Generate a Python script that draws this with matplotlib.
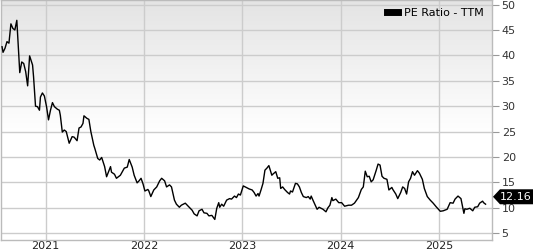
import numpy as np
import pandas as pd
import matplotlib
matplotlib.use('Agg')
import matplotlib.pyplot as plt
import matplotlib.dates as mdates
import matplotlib.transforms as mtransforms
from matplotlib.patches import Polygon
from matplotlib.colors import LinearSegmentedColormap

# weekly PE ratio (TTM), dates as decimal years
dec_years = [
    2020.56, 2020.57, 2020.59, 2020.61, 2020.63, 2020.65, 2020.67, 2020.69, 2020.71, 2020.73,
    2020.74, 2020.76, 2020.78, 2020.80, 2020.82, 2020.84, 2020.87, 2020.88, 2020.90, 2020.92,
    2020.94, 2020.95, 2020.97, 2020.99, 2021.01, 2021.03, 2021.05, 2021.07, 2021.09, 2021.12,
    2021.14, 2021.15, 2021.17, 2021.19, 2021.21, 2021.24, 2021.27, 2021.29, 2021.32, 2021.34,
    2021.36, 2021.38, 2021.39, 2021.42, 2021.44, 2021.46, 2021.49, 2021.50, 2021.53, 2021.55,
    2021.57, 2021.60, 2021.62, 2021.66, 2021.67, 2021.70, 2021.72, 2021.76, 2021.80, 2021.83,
    2021.85, 2021.88, 2021.90, 2021.93, 2021.95, 2021.97, 2021.99, 2022.01, 2022.04, 2022.05,
    2022.07, 2022.10, 2022.13, 2022.16, 2022.18, 2022.21, 2022.23, 2022.26, 2022.28, 2022.31,
    2022.33, 2022.36, 2022.38, 2022.42, 2022.44, 2022.46, 2022.49, 2022.51, 2022.54, 2022.56,
    2022.59, 2022.61, 2022.64, 2022.66, 2022.69, 2022.72, 2022.74, 2022.76, 2022.77, 2022.79,
    2022.81, 2022.84, 2022.87, 2022.89, 2022.92, 2022.94, 2022.96, 2022.98, 2023.01, 2023.04,
    2023.07, 2023.10, 2023.12, 2023.14, 2023.16, 2023.17, 2023.19, 2023.21, 2023.23, 2023.25,
    2023.27, 2023.30, 2023.31, 2023.34, 2023.36, 2023.38, 2023.39, 2023.41, 2023.43, 2023.46,
    2023.48, 2023.49, 2023.51, 2023.54, 2023.56, 2023.58, 2023.60, 2023.62, 2023.65, 2023.67,
    2023.69, 2023.70, 2023.72, 2023.76, 2023.78, 2023.82, 2023.85, 2023.87, 2023.89, 2023.91,
    2023.92, 2023.95, 2023.98, 2024.01, 2024.04, 2024.08, 2024.11, 2024.14, 2024.18, 2024.21,
    2024.23, 2024.25, 2024.27, 2024.29, 2024.31, 2024.33, 2024.36, 2024.38, 2024.40, 2024.42,
    2024.44, 2024.47, 2024.49, 2024.52, 2024.53, 2024.56, 2024.58, 2024.61, 2024.63, 2024.65,
    2024.67, 2024.69, 2024.71, 2024.73, 2024.75, 2024.78, 2024.80, 2024.83, 2024.85, 2024.88,
    2024.91, 2024.94, 2024.97, 2025.01, 2025.04, 2025.08, 2025.11, 2025.14, 2025.16, 2025.19,
    2025.22, 2025.24, 2025.25, 2025.26, 2025.28, 2025.31, 2025.34, 2025.36, 2025.39, 2025.41,
    2025.44, 2025.45, 2025.47,
]
pe_ratio = [
    41.7, 40.6, 41.4, 42.7, 42.4, 46.2, 45.3, 45.0, 46.9, 40.1,
    36.6, 38.7, 38.4, 36.8, 34.0, 39.9, 38.1, 35.8, 30.0, 29.9,
    29.2, 31.8, 32.6, 32.0, 29.9, 27.3, 29.2, 30.7, 29.9, 29.4,
    29.2, 28.2, 24.9, 25.3, 25.0, 22.7, 24.0, 23.9, 23.2, 25.7,
    25.9, 26.6, 28.1, 27.6, 27.4, 25.0, 22.3, 21.7, 19.7, 19.4,
    19.9, 18.1, 16.1, 18.1, 17.0, 16.6, 15.8, 16.4, 17.8, 18.0,
    19.5, 18.0, 16.4, 14.9, 15.3, 15.8, 14.7, 13.3, 13.6, 13.3,
    12.2, 13.5, 14.1, 15.3, 15.8, 15.3, 14.1, 14.5, 14.1, 11.5,
    10.7, 10.1, 10.5, 10.9, 10.5, 10.1, 9.5, 8.8, 8.4, 9.4,
    9.7, 9.0, 8.9, 8.4, 8.5, 7.7, 9.9, 11.0, 10.1, 10.7,
    10.3, 11.5, 11.8, 11.7, 12.3, 12.0, 12.7, 12.5, 14.3, 14.0,
    13.7, 13.5, 13.0, 12.3, 12.8, 12.3, 13.5, 14.8, 17.4, 17.8,
    18.3, 16.4, 16.6, 17.1, 15.8, 15.9, 13.8, 14.1, 13.6, 13.0,
    12.7, 13.3, 13.1, 14.8, 14.7, 14.1, 13.0, 12.2, 12.0, 12.2,
    11.7, 12.3, 11.4, 9.7, 10.1, 9.7, 9.2, 10.0, 10.5, 12.0,
    11.4, 11.7, 11.0, 11.0, 10.3, 10.5, 10.5, 10.9, 12.0, 13.6,
    14.1, 17.2, 16.1, 16.2, 15.1, 15.5, 17.3, 18.6, 18.4, 16.2,
    15.8, 15.6, 13.5, 14.0, 13.6, 12.7, 11.8, 13.0, 14.1, 13.8,
    12.7, 15.1, 15.8, 17.1, 16.4, 17.3, 16.8, 15.6, 13.8, 12.2,
    11.5, 10.9, 10.2, 9.3, 9.4, 9.7, 11.0, 10.9, 11.7, 12.3,
    11.8, 9.9, 8.9, 9.8, 9.7, 9.9, 9.4, 10.1, 10.2, 10.9,
    11.3, 11.0, 10.7,
]
last_value = 12.16
y_ticks = [5, 10, 15, 20, 25, 30, 35, 40, 45, 50]
x_years = [2021, 2022, 2023, 2024, 2025]


def to_date(y):
    yi = int(y)
    return pd.Timestamp(yi, 1, 1) + pd.Timedelta(days=(y - yi) * 365.25)


dates = [to_date(y) for y in dec_years]

fig = plt.figure(figsize=(5.33, 2.5), dpi=100)
ax = fig.add_axes([0.002, 0.04, 0.921, 0.96])

# grey (top) to white background gradient
grad = np.linspace(0, 1, 256).reshape(-1, 1)
grad = np.clip(grad * 1.8, 0, 1)
cmap = LinearSegmentedColormap.from_list('bg', ['#e4e4e4', '#ffffff'])
ax.imshow(grad, aspect='auto', cmap=cmap, extent=[0, 1, 0, 1], origin='upper',
          transform=ax.transAxes, zorder=0)

ax.plot(dates, pe_ratio, color='black', lw=1.0, zorder=3, label='PE Ratio - TTM')

ax.set_xlim(to_date(2020.55), to_date(2025.535))
ax.set_ylim(3.65, 50.9)

ax.set_xticks([pd.Timestamp(y, 1, 1) for y in x_years])
ax.xaxis.set_major_formatter(mdates.DateFormatter('%Y'))
ax.set_yticks(y_ticks)
ax.yaxis.tick_right()
ax.tick_params(axis='x', length=0, pad=1, labelsize=8, colors='#222222')
ax.tick_params(axis='y', length=5, width=0.8, color='#999999', pad=2,
               labelsize=8, labelcolor='#333333')
ax.grid(True, color='#cccccc', lw=1, zorder=1)
ax.set_axisbelow(True)
for s in ax.spines.values():
    s.set_color('#bbbbbb')
    s.set_linewidth(1)

leg = ax.legend(loc='upper right', frameon=False, fontsize=8, handlelength=1.0,
                handleheight=0.5, borderaxespad=0.3, handletextpad=0.6)
for h in leg.legend_handles:
    h.set_linewidth(5)

# price tag on the right axis
blend = mtransforms.blended_transform_factory(ax.transAxes, ax.transData)
tag_tr = fig.dpi_scale_trans + mtransforms.ScaledTranslation(1.0, last_value, blend)
tag = Polygon([[0.01, 0], [0.08, 0.075], [0.42, 0.075], [0.42, -0.075], [0.08, -0.075]],
              closed=True, facecolor='black', edgecolor='none', transform=tag_tr,
              clip_on=False, zorder=5)
fig.add_artist(tag)
fig.text(0.235, 0, f'{last_value:.2f}', transform=tag_tr, color='white', fontsize=8,
         ha='center', va='center', zorder=6)

fig.savefig('out.png', dpi=100)
